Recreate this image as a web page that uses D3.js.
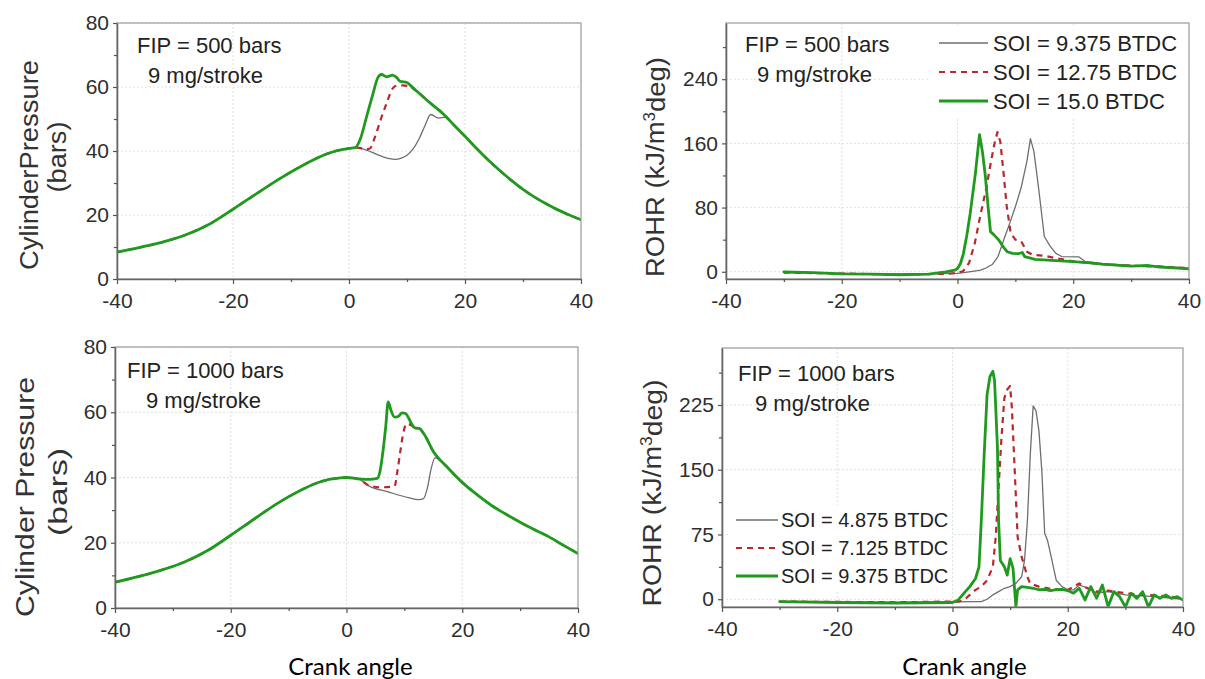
<!DOCTYPE html>
<html>
<head>
<meta charset="utf-8">
<script src="https://cdn.jsdelivr.net/npm/d3@7"></script>
<style>
  html, body { margin: 0; padding: 0; background: #fff; }
  svg { display: block; }
</style>
</head>
<body>
<svg id="chart" width="1205" height="679"></svg>
<script>
// ---- axis ticks ----
const crankTicks = [-40, -20, 0, 20, 40];
const crankMinor = [-30, -10, 10, 30];
const pressureTicks = [0, 20, 40, 60, 80];
const pressureMinor = [10, 30, 50, 70];
const rohr500Ticks = [0, 80, 160, 240];
const rohr500Minor = [40, 120, 200, 280];
const rohr1000Ticks = [0, 75, 150, 225];
const rohr1000Minor = [37.5, 112.5, 187.5, 262.5];

// ---- legend labels ----
const soi500Labels = ["SOI = 9.375 BTDC", "SOI = 12.75 BTDC", "SOI = 15.0 BTDC"];
const soi1000Labels = ["SOI = 4.875 BTDC", "SOI = 7.125 BTDC", "SOI = 9.375 BTDC"];

// ---- cylinder pressure, FIP = 500 bars [crank angle, bar] ----
const p500Compression = [[-40,8.4],[-36,9.9],[-32,11.6],[-28,13.9],[-24,17.2],[-20,21.8],[-16,26.6],
  [-12,31.3],[-8,35.5],[-5,38.2],[-3,39.6],[-1,40.5],[0,40.8],[1.1,41.1]];
const p500Expansion = [[18,48.3],[20,44.6],[22,40.8],[24,37.2],[26,33.9],[28,30.8],[30,28],
  [32,25.6],[34,23.5],[36,21.6],[38,20],[40,18.5]];
const p500Soi15 = [[2,44],[3,50.5],[4,57],[5,63],[5.6,63.9],[6.5,63.2],[7.5,63.7],[8.2,63],
  [8.8,61.8],[10,61.4],[11,59.8],[12,58.2],[14,55],[16,52]];
const p500Soi1275 = [[2,40.9],[3,40.6],[3.6,40.8],[4.5,44.5],[5.5,50],[6.5,55],[7.5,59.5],
  [8.2,60.4],[9.2,60.5],[10.2,60.3],[11,59.6],[12,58.2],[14,55],[16,52]];
const p500Soi9375 = [[2,40.8],[3,40.3],[4,39.6],[5,38.8],[6,38.1],[7,37.6],[8,37.4],[9,37.8],
  [10,38.7],[11,40.5],[12,43.5],[13,47.5],[14.1,51.4],[15.4,50.3],[16.7,50.6]];

// ---- cylinder pressure, FIP = 1000 bars ----
const p1000Compression = [[-40,7.9],[-36,9.6],[-32,11.6],[-28,14.1],[-24,17.6],[-20,22.3],[-16,27.2],
  [-12,32],[-8,36],[-5,38.4],[-3,39.4],[-1,39.9],[0,40],[2,39.6]];
const p1000Expansion = [[17.5,43],[20,38.5],[22.5,34.8],[25,31.5],[27.5,28.8],[30,26.3],
  [32.5,24],[35,21.8],[37.5,19.2],[40,16.7]];
const p1000Soi9375 = [[4,39.4],[5.3,39.7],[5.8,42],[6.3,48],[6.8,56],[7.2,63.2],[7.7,60.5],
  [8.3,58.5],[9,58.8],[9.6,59.8],[10.2,59.6],[10.8,58],[11.3,56.3],[11.8,55.2],[12.6,55],
  [13.5,53],[15,48]];
const p1000Soi7125 = [[4,37.5],[6,37],[8.3,37.3],[8.8,42],[9.3,48],[9.8,53.5],[10.4,56.5],
  [11.2,56],[11.8,55.2],[12.6,55],[13.5,53],[15,48]];
const p1000Soi4875 = [[4,37.3],[7,35.7],[10.7,33.8],[12.5,33.2],[13.3,33.5],[14,37],[14.6,42.5],
  [15.3,46],[15.8,45.7],[16.3,45],[17,44]];

// ---- rate of heat release, FIP = 500 bars [crank angle, kJ/m3deg] ----
const rohr500Soi15 = [[-30,0],[-25,-1],[-20,-2.5],[-15,-3],[-10,-3.7],[-5,-3],[-2,0],[-0.5,2],
  [0,4],[0.5,10],[1,22],[1.6,45],[2.2,73],[3.1,123],[3.8,171],[4.3,150],[4.8,120],[5.3,80],
  [5.7,50],[6.3,46],[7.1,40],[8,30],[8.6,25],[9.5,23],[10.5,22.5],[11.2,24],[11.6,19],
  [12.6,17],[13.4,15.5],[17,14],[20,12.7],[23,11],[25,9.5],[28,8],[30,7],[33,7.8],[35,5.7],
  [38,4.5],[40,3.7]];
const rohr500Soi1275 = [[-30,-1],[-10,-3.5],[-2,-2.5],[0,-1.5],[1,1],[2,11],[3,36],[4,72],[5,105],
  [5.8,138],[6.4,160],[6.9,174],[7.4,162],[8,120],[8.5,82],[9.2,48],[10,40],[11,38],[12,25],
  [13,21],[15,20],[17,17],[20,13],[25,9.5],[30,7.5],[35,6.5],[40,4.5]];
const rohr500Soi9375 = [[-30,-1],[-10,-3],[0,-2],[2,0],[4,2],[5,5],[6,9],[7,19],[8,40],[9,60],
  [10,81],[11,105],[12,138],[12.6,166],[13.2,150],[14,105],[15,44],[16,32],[17,23],[18,19],
  [21,18.5],[22,13],[25,10],[30,8],[35,7],[40,4.5]];

// ---- rate of heat release, FIP = 1000 bars ----
const rohr1000Soi9375 = [[-30,-2.7],[-20,-3.8],[-10,-4.6],[0,-3.8],[1,-0.8],[2,7],[3,14.6],[4,24],
  [4.6,37.6],[5,91],[5.5,168],[6,237],[6.5,258],[7,264],[7.3,253],[7.8,176],[8,91],[8.3,45],
  [9,37.6],[9.5,28],[10,47],[10.5,36],[11,-8.4],[11.3,10.8],[12,14.6],[13,13.8],[14,12.7],
  [15,11],[16,11.5],[17,10],[18,11],[19,11.5],[20,10],[21,7],[22,12.7],[23,-0.8],[24,14.6],
  [25,1.2],[26,16.5],[27,-8.4],[28,8.8],[29,3],[30,-9],[31,7],[32,1],[33,8.8],[34,-9],[35,5],
  [36,1],[37,5],[38,1],[39,3],[40,-1]];
const rohr1000Soi7125 = [[-30,-2.7],[-10,-3.5],[0,-2.7],[1,-2.7],[2,-1],[3,5],[4,10.8],[5,14.6],
  [6,22],[7,37.6],[7.5,72],[8,130],[8.5,187],[9,233],[9.5,243],[10,247],[10.3,222],[10.8,149],
  [11.3,72],[12,49],[12.5,37.6],[13,26],[13.5,18],[15,14.6],[17,12],[20,10.8],[22,18.4],
  [23,14],[25,8.8],[27,10],[30,7],[33,5],[35,4.5],[38,3],[40,1]];
const rohr1000Soi4875 = [[-30,-2.7],[-10,-3.5],[0,-3],[4,-2.7],[5,-2.7],[6,0],[7,5],[8,8.8],
  [9,12.7],[10,14.6],[11,18.4],[12,26],[12.5,45],[13,91],[13.5,168],[14,224],[14.5,218],
  [15,195],[15.5,149],[16,76],[16.5,68],[17,53],[17.5,37.6],[18,22],[19,14.6],[20,10.8],
  [21,10.8],[22,16.5],[23,14],[25,7],[27,8.8],[30,5],[35,3],[40,0]];

// ---- series styling: late, mid and early injection ----
const seriesStyles = [
  { stroke: "#6e6e6e", width: 1.3, dash: null },
  { stroke: "#b8282c", width: 2.2, dash: "6,5" },
  { stroke: "#1f9a1f", width: 2.8, dash: null }
];

const svg = d3.select("#chart");
const FONT = "'Liberation Sans', Arial, sans-serif";

function drawPanel(cfg) {
  const x = d3.scaleLinear().domain([-40, 40]).range([cfg.left, cfg.right]);
  const y = d3.scaleLinear().domain(cfg.yDomain).range([cfg.bottom, cfg.top]);
  const g = svg.append("g");

  // light dotted grid at labelled ticks
  g.append("g").selectAll("line").data(crankTicks.slice(1, -1)).join("line")
    .attr("x1", d => x(d)).attr("x2", d => x(d))
    .attr("y1", cfg.top).attr("y2", cfg.bottom)
    .attr("stroke", "#e0e0e0").attr("stroke-width", 1).attr("stroke-dasharray", "2,2");
  g.append("g").selectAll("line").data(cfg.yTicks.filter(v => v > cfg.yDomain[0] + 1)).join("line")
    .attr("x1", cfg.left).attr("x2", cfg.right)
    .attr("y1", d => y(d)).attr("y2", d => y(d))
    .attr("stroke", "#e0e0e0").attr("stroke-width", 1).attr("stroke-dasharray", "2,2");

  // white boxes behind the legend
  if (cfg.legendBox) {
    g.append("rect").attr("x", cfg.legendBox[0]).attr("y", cfg.legendBox[1])
      .attr("width", cfg.legendBox[2]).attr("height", cfg.legendBox[3]).attr("fill", "#fff");
  }

  // clip the traces to the plot frame
  const clipId = "clip" + cfg.id;
  svg.append("clipPath").attr("id", clipId).append("rect")
    .attr("x", cfg.left).attr("y", cfg.top)
    .attr("width", cfg.right - cfg.left).attr("height", cfg.bottom - cfg.top);

  const line = d3.line().x(d => x(d[0])).y(d => y(d[1]))
    .curve(cfg.rohr ? d3.curveLinear : d3.curveMonotoneX);
  const traces = g.append("g").attr("clip-path", `url(#${clipId})`);
  cfg.series.forEach((s, i) => {
    const st = seriesStyles[i];
    traces.append("path").datum(s)
      .attr("d", line).attr("fill", "none")
      .attr("stroke", st.stroke).attr("stroke-width", st.width)
      .attr("stroke-linejoin", "round").attr("stroke-linecap", st.dash ? "butt" : "round")
      .attr("stroke-dasharray", st.dash);
  });

  // frame
  g.append("rect").attr("x", cfg.left).attr("y", cfg.top)
    .attr("width", cfg.right - cfg.left).attr("height", cfg.bottom - cfg.top)
    .attr("fill", "none").attr("stroke", "#9a9a9a").attr("stroke-width", 1.2);

  const fmt = d => String(d);

  // x axis
  const xAxis = g.append("g").attr("transform", `translate(0,${cfg.bottom})`)
    .call(d3.axisBottom(x).tickValues(crankTicks).tickSize(5).tickSizeOuter(0).tickPadding(8)
      .tickFormat(fmt));
  g.append("g").attr("transform", `translate(0,${cfg.bottom})`)
    .call(d3.axisBottom(x).tickValues(crankMinor).tickSize(3).tickSizeOuter(0).tickFormat(""))
    .call(a => a.select(".domain").remove());

  // y axis
  g.append("g").attr("transform", `translate(${cfg.left},0)`)
    .call(d3.axisLeft(y).tickValues(cfg.yTicks).tickSize(4).tickSizeOuter(0).tickPadding(4)
      .tickFormat(fmt));
  g.append("g").attr("transform", `translate(${cfg.left},0)`)
    .call(d3.axisLeft(y).tickValues(cfg.yMinor).tickSize(3).tickSizeOuter(0).tickFormat(""))
    .call(a => a.select(".domain").remove());

  g.selectAll(".domain").attr("stroke", "#666").attr("stroke-width", 1.6);
  g.selectAll(".tick line").attr("stroke", "#555").attr("stroke-width", 1.2);
  g.selectAll(".tick text").attr("font-family", FONT).attr("font-size", 21).attr("fill", "#2e2e2e");
  xAxis.selectAll(".tick text").attr("dy", "0.74em");

  // y axis title
  const tt = g.append("text").attr("font-family", FONT).attr("font-size", 26).attr("fill", "#333")
    .attr("text-anchor", "middle")
    .attr("transform", `translate(${cfg.titleX[0]},${cfg.titleY[0]}) rotate(-90)`)
    .attr("dy", "0.35em")
    .attr("textLength", cfg.titleLen[0]).attr("lengthAdjust", "spacingAndGlyphs");
  if (cfg.rohr) {
    tt.append("tspan").text("ROHR  (kJ/m");
    tt.append("tspan").attr("font-size", 16).attr("dy", "-0.6em").text("3");
    tt.append("tspan").attr("dy", "0.4em").text("deg)");
  } else {
    tt.text(cfg.titleLines[0]);
    g.append("text").attr("font-family", FONT).attr("font-size", 26).attr("fill", "#333")
      .attr("text-anchor", "middle")
      .attr("transform", `translate(${cfg.titleX[1]},${cfg.titleY[1]}) rotate(-90)`)
      .attr("dy", "0.35em")
      .attr("textLength", cfg.titleLen[1]).attr("lengthAdjust", "spacingAndGlyphs")
      .text(cfg.titleLines[1]);
  }

  // operating-condition note
  g.append("text").attr("x", cfg.note[0]).attr("y", cfg.note[1])
    .attr("font-family", FONT).attr("font-size", 22).attr("fill", "#222").text(cfg.noteText);
  g.append("text").attr("x", cfg.note[2]).attr("y", cfg.note[1] + 30)
    .attr("font-family", FONT).attr("font-size", 22).attr("fill", "#222").text("9 mg/stroke");

  // legend
  if (cfg.legend) {
    const L = cfg.legend;
    cfg.legendLabels.forEach((lab, i) => {
      const st = seriesStyles[i];
      const cy = L.y + i * L.step;
      g.append("line").attr("x1", L.x0).attr("x2", L.x1).attr("y1", cy).attr("y2", cy)
        .attr("stroke", st.stroke).attr("stroke-width", st.width)
        .attr("stroke-dasharray", st.dash);
      g.append("text").attr("x", L.tx).attr("y", cy).attr("dy", "0.36em")
        .attr("font-family", FONT).attr("font-size", L.size).attr("fill", "#222").text(lab);
    });
  }

  if (cfg.xTitle) {
    g.append("text").attr("x", x(0) + cfg.xTitle).attr("y", 675)
      .attr("text-anchor", "middle").attr("font-family", "Lato, 'Open Sans', sans-serif")
      .attr("font-size", 24).attr("fill", "#000").text("Crank angle");
  }
}

// top-left: pressure, FIP 500
drawPanel({
  id: 1, left: 117, right: 581, top: 23, bottom: 279, yDomain: [0, 80],
  yTicks: pressureTicks, yMinor: pressureMinor,
  series: [p500Compression.concat(p500Soi9375, p500Expansion),
           p500Compression.concat(p500Soi1275, p500Expansion),
           p500Compression.concat(p500Soi15, p500Expansion)],
  titleLines: ["CylinderPressure", "(bars)"], titleX: [29, 57], titleY: [165, 157],
  titleLen: [210, 71],
  note: [137, 53, 148], noteText: "FIP = 500 bars"
});

// top-right: heat release, FIP 500
drawPanel({
  id: 2, left: 726, right: 1189, top: 23, bottom: 279, yDomain: [-9, 310],
  yTicks: rohr500Ticks, yMinor: rohr500Minor, rohr: true,
  series: [rohr500Soi9375, rohr500Soi1275, rohr500Soi15],
  titleX: [655], titleY: [167], titleLen: [220],
  note: [745, 52, 757], noteText: "FIP = 500 bars",
  legendBox: [930, 25, 258, 92],
  legend: { x0: 939, x1: 988, tx: 993, y: 43, step: 29, size: 22 },
  legendLabels: soi500Labels
});

// bottom-left: pressure, FIP 1000
drawPanel({
  id: 3, left: 115, right: 578, top: 347, bottom: 608, yDomain: [0, 80],
  yTicks: pressureTicks, yMinor: pressureMinor,
  series: [p1000Compression.concat(p1000Soi4875, p1000Expansion),
           p1000Compression.concat(p1000Soi7125, p1000Expansion),
           p1000Compression.concat(p1000Soi9375, p1000Expansion)],
  titleLines: ["Cylinder Pressure", "(bars)"], titleX: [25, 58], titleY: [497, 492],
  titleLen: [240, 88],
  note: [127, 378, 146], noteText: "FIP = 1000 bars",
  xTitle: 4
});

// bottom-right: heat release, FIP 1000
drawPanel({
  id: 4, left: 722, right: 1183, top: 348, bottom: 607, yDomain: [-9, 291],
  yTicks: rohr1000Ticks, yMinor: rohr1000Minor, rohr: true,
  series: [rohr1000Soi4875, rohr1000Soi7125, rohr1000Soi9375],
  titleX: [652], titleY: [493], titleLen: [227],
  note: [738, 381, 755], noteText: "FIP = 1000 bars",
  legendBox: [730, 505, 222, 86],
  legend: { x0: 736, x1: 778, tx: 781, y: 520, step: 28, size: 20 },
  legendLabels: soi1000Labels,
  xTitle: 12
});
</script>
</body>
</html>
